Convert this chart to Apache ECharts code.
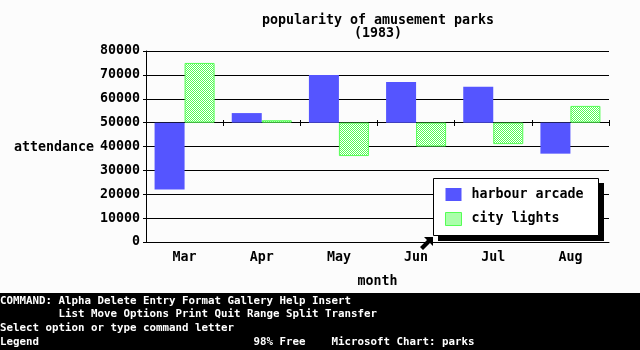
<!DOCTYPE html>
<html>
<head>
<meta charset="utf-8">
<script src="https://cdn.jsdelivr.net/npm/echarts@6/dist/echarts.min.js"></script>
<style>
html,body{margin:0;padding:0;background:#fcfcfc;}
#c{width:640px;height:350px;}
</style>
</head>
<body>
<div id="c"></div>
<script>
const categories = ['Mar', 'Apr', 'May', 'Jun', 'Jul', 'Aug'];
const harbourArcade = [22000, 54000, 70000, 67000, 65000, 37000];
const cityLights = [75000, 51000, 36000, 40000, 41000, 57000];
const baseline = 50000;
const yTicks = [0, 10000, 20000, 30000, 40000, 50000, 60000, 70000, 80000];

const FONT = 'DejaVu Sans Mono';
const BLUE = '#5555ff';
const GREEN = '#55ff55';

function makePattern() {
  const cv = document.createElement('canvas');
  cv.width = 2; cv.height = 2;
  const ctx = cv.getContext('2d');
  ctx.fillStyle = '#ffffff';
  ctx.fillRect(0, 0, 2, 2);
  ctx.fillStyle = GREEN;
  ctx.fillRect(0, 0, 1, 1);
  ctx.fillRect(1, 1, 1, 1);
  return cv;
}
const pattern = { image: makePattern(), repeat: 'repeat' };

const lowOf = arr => arr.map(v => Math.min(v, baseline));
const diffOf = arr => arr.map(v => Math.abs(v - baseline));

const chart = echarts.init(document.getElementById('c'), null, { renderer: 'canvas' });

const labelFont = { fontFamily: FONT, fontSize: 13.3, fontWeight: 'bold', color: '#000' };
const boldFont = 'bold 13.3px "DejaVu Sans Mono"';
const cmdFont = 'bold 10.8px "DejaVu Sans Mono"';

const cityStyle = { color: pattern, borderColor: GREEN, borderWidth: 1 };

chart.setOption({
  backgroundColor: '#fcfcfc',
  animation: false,
  grid: { left: 146, right: 31, top: 51, bottom: 108, containLabel: false },
  xAxis: [
    {
      type: 'category',
      data: categories,
      position: 'bottom',
      axisLine: { show: true, lineStyle: { color: '#000', width: 1 } },
      axisTick: { show: false },
      axisLabel: Object.assign({ margin: 9, interval: 0 }, labelFont),
      name: 'month',
      nameLocation: 'middle',
      nameGap: 33,
      nameTextStyle: labelFont
    },
    {
      type: 'category',
      data: categories,
      position: 'bottom',
      offset: -122,
      axisLine: { show: false },
      axisTick: { show: true, length: 6, lineStyle: { color: '#000', width: 1 } },
      axisLabel: { show: false }
    }
  ],
  yAxis: {
    type: 'value',
    min: yTicks[0],
    max: yTicks[yTicks.length - 1],
    interval: yTicks[1] - yTicks[0],
    axisLine: { show: true, lineStyle: { color: '#000', width: 1 } },
    axisTick: { show: true, length: 3, lineStyle: { color: '#000' } },
    axisLabel: Object.assign({ margin: 6, formatter: v => String(v) }, labelFont),
    splitLine: { show: true, lineStyle: { color: '#000', width: 1 } }
  },
  legend: {
    data: [
      { name: 'harbour arcade', itemStyle: { color: BLUE, borderWidth: 0 } },
      { name: 'city lights', itemStyle: cityStyle }
    ],
    orient: 'vertical',
    left: 445,
    top: 188,
    padding: 0,
    itemGap: 11,
    itemWidth: 16,
    itemHeight: 13,
    icon: 'rect',
    z: 20,
    backgroundColor: 'transparent',
    textStyle: Object.assign({ padding: [0, 0, 0, 5], lineHeight: 13 }, labelFont)
  },
  series: [
    {
      name: '_hbase', type: 'bar', stack: 'h', data: lowOf(harbourArcade),
      barWidth: 30, barGap: '0%',
      itemStyle: { color: 'transparent' }, silent: true
    },
    {
      name: 'harbour arcade', type: 'bar', stack: 'h', data: diffOf(harbourArcade),
      barWidth: 30, barGap: '0%',
      itemStyle: { color: BLUE }
    },
    {
      name: '_cbase', type: 'bar', stack: 'c', data: lowOf(cityLights),
      barWidth: 30, barGap: '0%',
      itemStyle: { color: 'transparent' }, silent: true
    },
    {
      name: 'city lights', type: 'bar', stack: 'c', data: diffOf(cityLights),
      barWidth: 30, barGap: '0%',
      itemStyle: cityStyle
    }
  ],
  graphic: [
    { type: 'text', x: 378, y: 21, style: { text: 'popularity of amusement parks', font: boldFont, fill: '#000', textAlign: 'center', textVerticalAlign: 'middle' } },
    { type: 'text', x: 378, y: 34, style: { text: '(1983)', font: boldFont, fill: '#000', textAlign: 'center', textVerticalAlign: 'middle' } },
    { type: 'text', x: 14, y: 148, style: { text: 'attendance', font: boldFont, fill: '#000', textAlign: 'left', textVerticalAlign: 'middle' } },
    { type: 'rect', z: 10, shape: { x: 438, y: 183, width: 166, height: 58 }, style: { fill: '#000' } },
    { type: 'rect', z: 11, shape: { x: 433.5, y: 178.5, width: 165, height: 57 }, style: { fill: '#fff', stroke: '#000', lineWidth: 1 } },
    { type: 'polygon', shape: { points: [[433, 237], [433, 246], [430, 243], [423, 250], [420, 247], [427, 240], [424, 237]] }, style: { fill: '#000' }, z: 100 },
    { type: 'rect', shape: { x: 0, y: 293, width: 640, height: 57 }, style: { fill: '#000' }, z: 50 },
    { type: 'text', x: 0, y: 301, z: 51, style: { text: 'COMMAND: Alpha Delete Entry Format Gallery Help Insert', font: cmdFont, fill: '#fff', textVerticalAlign: 'middle' } },
    { type: 'text', x: 0, y: 314, z: 51, style: { text: '         List Move Options Print Quit Range Split Transfer', font: cmdFont, fill: '#fff', textVerticalAlign: 'middle' } },
    { type: 'text', x: 0, y: 328, z: 51, style: { text: 'Select option or type command letter', font: cmdFont, fill: '#fff', textVerticalAlign: 'middle' } },
    { type: 'text', x: 0, y: 342, z: 51, style: { text: 'Legend                                 98% Free    Microsoft Chart: parks', font: cmdFont, fill: '#fff', textVerticalAlign: 'middle' } }
  ]
});
</script>
</body>
</html>
